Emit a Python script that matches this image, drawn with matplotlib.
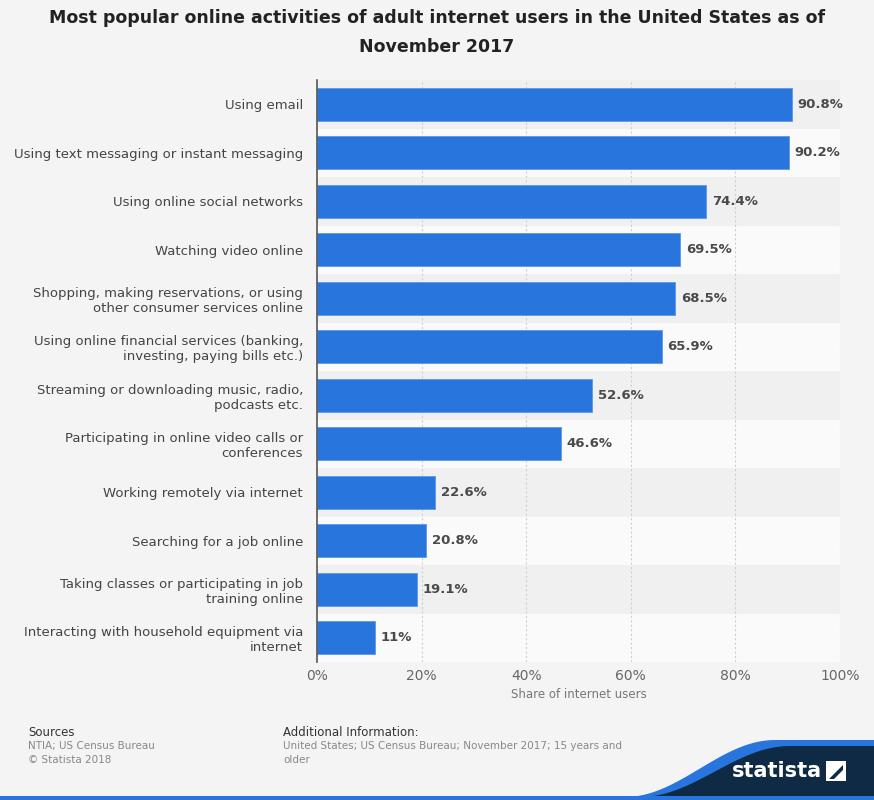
import matplotlib
matplotlib.use("Agg")
import matplotlib.pyplot as plt
from matplotlib.patches import Polygon, Rectangle
import numpy as np

categories = [
    "Using email",
    "Using text messaging or instant messaging",
    "Using online social networks",
    "Watching video online",
    "Shopping, making reservations, or using\nother consumer services online",
    "Using online financial services (banking,\ninvesting, paying bills etc.)",
    "Streaming or downloading music, radio,\npodcasts etc.",
    "Participating in online video calls or\nconferences",
    "Working remotely via internet",
    "Searching for a job online",
    "Taking classes or participating in job\ntraining online",
    "Interacting with household equipment via\ninternet",
]
values = [90.8, 90.2, 74.4, 69.5, 68.5, 65.9, 52.6, 46.6, 22.6, 20.8, 19.1, 11]
value_labels = ["90.8%", "90.2%", "74.4%", "69.5%", "68.5%", "65.9%", "52.6%",
                "46.6%", "22.6%", "20.8%", "19.1%", "11%"]
xticks = [0, 20, 40, 60, 80, 100]
xtick_labels = ["0%", "20%", "40%", "60%", "80%", "100%"]

bg = "#f4f4f4"
fig = plt.figure(figsize=(8.74, 8.0), dpi=100, facecolor=bg)
ax = fig.add_axes([317/874, 1-662/800, (840-317)/874, (662-80)/800])
ax.set_facecolor(bg)

n = len(categories)
y = np.arange(n)
ax.set_ylim(n - 0.5, -0.5)
ax.set_xlim(0, 100)

for i in range(n):
    col = "#f0f0f0" if i % 2 == 0 else "#fafafa"
    ax.axhspan(i - 0.5, i + 0.5, color=col, zorder=0, lw=0)

for xv in xticks[1:]:
    ax.axvline(xv, color="#cfcfcf", lw=0.8, ls=(0, (2, 2)), zorder=1)

ax.barh(y, values, height=0.68, color="#2876dd", edgecolor="#5a97ea", lw=0.6, zorder=2)
for yi, v, lab in zip(y, values, value_labels):
    ax.text(v + 1.1, yi, lab, va="center", ha="left", fontsize=9.5,
            fontweight="bold", color="#4a4a4a", zorder=3)

ax.set_yticks(y)
ax.set_yticklabels(categories, fontsize=9.5, color="#444444")
ax.set_xticks(xticks)
ax.set_xticklabels(xtick_labels, fontsize=10, color="#666666")
ax.tick_params(axis="both", length=0)
ax.tick_params(axis="y", pad=10)
ax.tick_params(axis="x", pad=5)
ax.set_xlabel("Share of internet users", fontsize=8.5, color="#777777", labelpad=4)

for s in ["top", "right", "bottom"]:
    ax.spines[s].set_visible(False)
ax.spines["left"].set_color("#555555")
ax.spines["left"].set_linewidth(1.2)

fig.text(437/874, 1-9/800, "Most popular online activities of adult internet users in the United States as of\nNovember 2017",
         ha="center", va="top", fontsize=12.5, fontweight="bold", color="#222222", linespacing=1.75)

# Footer
fig.text(28/874, 1-732/800, "Sources", fontsize=8.5, color="#333333", va="center")
fig.text(28/874, 1-746/800, "NTIA; US Census Bureau", fontsize=7.5, color="#888888", va="center")
fig.text(28/874, 1-760/800, "\u00a9 Statista 2018", fontsize=7.5, color="#888888", va="center")
fig.text(283/874, 1-732/800, "Additional Information:", fontsize=8.5, color="#333333", va="center")
fig.text(283/874, 1-746/800, "United States; US Census Bureau; November 2017; 15 years and",
         fontsize=7.5, color="#888888", va="center")
fig.text(283/874, 1-760/800, "older", fontsize=7.5, color="#888888", va="center")

# Logo wave
xs = np.linspace(600, 874, 80)
def wave(xx, x0, x1, ytop, ybot):
    t = np.clip((xx - x0) / (x1 - x0), 0, 1)
    s = 0.5 - 0.5 * np.cos(np.pi * t)
    return ybot + (ytop - ybot) * s
top_dark = wave(xs, 640, 790, 746, 797)
top_blue = wave(xs, 625, 775, 740, 797)
pts_blue = [(x/874, 1-yv/800) for x, yv in zip(xs, top_blue)] + [(874/874, 0), (600/874, 0)]
pts_dark = [(x/874, 1-yv/800) for x, yv in zip(xs, top_dark)] + [(874/874, 0), (600/874, 0)]
fig.add_artist(Polygon(pts_blue, closed=True, transform=fig.transFigure, color="#2876dd", lw=0))
fig.add_artist(Polygon(pts_dark, closed=True, transform=fig.transFigure, color="#0f2a45", lw=0))
fig.add_artist(Rectangle((0, 0), 1, 4/800, transform=fig.transFigure, color="#2876dd", lw=0))
fig.text(777/874, 1-771/800, "statista", fontsize=15, fontweight="bold", color="white",
         ha="center", va="center")
fig.add_artist(Rectangle((826/874, 1-781/800), 20/874, 20/800, transform=fig.transFigure,
                         color="white", lw=0))
fig.add_artist(Polygon([(829/874, 1-779/800), (843/874, 1-765/800), (843/874, 1-770/800), (834/874, 1-779/800)],
                       closed=True, transform=fig.transFigure, color="#0f2a45", lw=0))

fig.savefig("out.png", dpi=100, facecolor=bg)
